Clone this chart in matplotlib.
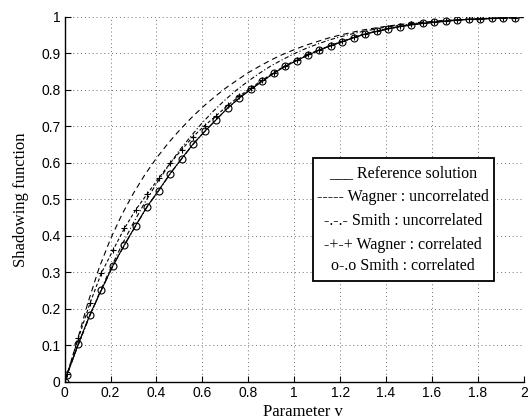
import numpy as np
import matplotlib
matplotlib.use("Agg")
import matplotlib.pyplot as plt
from matplotlib.patches import Rectangle

# sample points of the correlated curves (markers)
v_mark = [0.0, 0.01, 0.06, 0.11, 0.16, 0.21, 0.26, 0.31, 0.36, 0.41, 0.46,
          0.51, 0.56, 0.61, 0.66, 0.71, 0.76, 0.81, 0.86, 0.91, 0.96,
          1.01, 1.06, 1.11, 1.16, 1.21, 1.26, 1.31, 1.36, 1.41, 1.46,
          1.51, 1.56, 1.61, 1.66, 1.71, 1.76, 1.81, 1.86, 1.91, 1.96]

reference = [0.0, 0.020, 0.105, 0.184, 0.252, 0.318, 0.375, 0.429, 0.481, 0.525, 0.571,
             0.612, 0.652, 0.686, 0.718, 0.750, 0.777, 0.801, 0.823, 0.845, 0.864,
             0.880, 0.895, 0.909, 0.921, 0.932, 0.943, 0.953, 0.960, 0.967, 0.973,
             0.978, 0.982, 0.985, 0.988, 0.991, 0.993, 0.994, 0.996, 0.997, 0.998]

smith_corr = [0.0, 0.019, 0.104, 0.183, 0.251, 0.317, 0.374, 0.428, 0.480, 0.524, 0.570,
              0.611, 0.651, 0.686, 0.718, 0.750, 0.777, 0.801, 0.823, 0.845, 0.864,
              0.880, 0.895, 0.909, 0.921, 0.932, 0.943, 0.953, 0.960, 0.967, 0.973,
              0.978, 0.982, 0.985, 0.988, 0.991, 0.993, 0.994, 0.996, 0.997, 0.998]

wagner_corr = [0.0, 0.021, 0.120, 0.215, 0.298, 0.360, 0.420, 0.472, 0.515, 0.558, 0.599,
               0.636, 0.672, 0.702, 0.729, 0.757, 0.782, 0.805, 0.826, 0.847, 0.866,
               0.882, 0.897, 0.910, 0.922, 0.933, 0.944, 0.954, 0.961, 0.968, 0.974,
               0.979, 0.982, 0.985, 0.988, 0.991, 0.993, 0.994, 0.996, 0.997, 0.998]

# uncorrelated curves
v_line = [0.0, 0.01, 0.05, 0.10, 0.15, 0.20, 0.25, 0.30, 0.35, 0.40, 0.45,
          0.50, 0.55, 0.60, 0.65, 0.70, 0.75, 0.80, 0.85, 0.90, 0.95,
          1.00, 1.05, 1.10, 1.15, 1.20, 1.25, 1.30, 1.35, 1.40, 1.45,
          1.50, 1.55, 1.60, 1.65, 1.70, 1.75, 1.80, 1.85, 1.90, 1.95, 2.00]

wagner_uncorr = [0.0, 0.018, 0.102, 0.214, 0.312, 0.392, 0.459, 0.517, 0.568, 0.613, 0.653,
                 0.689, 0.722, 0.752, 0.779, 0.804, 0.826, 0.847, 0.865, 0.882, 0.897,
                 0.910, 0.922, 0.932, 0.942, 0.950, 0.957, 0.964, 0.969, 0.974, 0.978,
                 0.982, 0.985, 0.987, 0.990, 0.991, 0.993, 0.994, 0.995, 0.996, 0.997, 0.998]

smith_uncorr = [0.0, 0.018, 0.086, 0.166, 0.241, 0.311, 0.376, 0.436, 0.492, 0.543, 0.590,
                0.634, 0.673, 0.710, 0.743, 0.773, 0.800, 0.824, 0.846, 0.866, 0.883,
                0.899, 0.913, 0.925, 0.936, 0.945, 0.953, 0.960, 0.966, 0.972, 0.976,
                0.980, 0.984, 0.986, 0.989, 0.991, 0.993, 0.994, 0.995, 0.996, 0.997, 0.998]

legend_lines = ["___ Reference solution",
                "----- Wagner : uncorrelated",
                "-.-.- Smith : uncorrelated",
                "-+-+ Wagner : correlated",
                "o-.o Smith : correlated"]

serif = ["Liberation Serif", "DejaVu Serif"]
sans = ["Liberation Sans", "DejaVu Sans"]

fig = plt.figure(figsize=(5.28, 4.2), dpi=100)
ax = fig.add_axes([0.1225, 0.091, 0.8695, 0.869])

lw = 0.8
ax.plot(v_line, wagner_uncorr, color="k", lw=lw, linestyle=(0, (5, 3.5)))
ax.plot(v_line, smith_uncorr, color="k", lw=lw, linestyle=(0, (4, 2, 1, 2)))
ax.plot(v_mark, wagner_corr, color="k", lw=lw, linestyle=(0, (3, 2)),
        marker="+", markersize=5, markeredgewidth=0.8)
ax.plot(v_mark, reference, color="k", lw=lw, linestyle="-")
ax.plot(v_mark, smith_corr, color="k", lw=lw, linestyle="-.",
        marker="o", markersize=5, markerfacecolor="none", markeredgewidth=0.8)

ax.set_xlim(0, 2)
ax.set_ylim(0, 1)
ax.set_xticks(np.arange(0, 2.01, 0.2))
ax.set_yticks(np.arange(0, 1.01, 0.1))
ax.set_xticklabels(["0", "0.2", "0.4", "0.6", "0.8", "1", "1.2", "1.4", "1.6", "1.8", "2"])
ax.set_yticklabels(["0", "0.1", "0.2", "0.3", "0.4", "0.5", "0.6", "0.7", "0.8", "0.9", "1"])
ax.tick_params(direction="in", length=4, width=0.8, labelsize=10, pad=3)
for lab in ax.get_xticklabels() + ax.get_yticklabels():
    lab.set_family(sans)

ax.grid(True, linestyle=(0, (1, 3)), color="0.45", linewidth=0.7)
ax.spines["top"].set_visible(False)
ax.spines["right"].set_visible(False)
ax.spines["left"].set_linewidth(1.0)
ax.spines["bottom"].set_linewidth(1.0)

ax.set_xlabel("Parameter v", family=serif, fontsize=12, labelpad=4)
ax.xaxis.set_label_coords(0.52, -0.062)
ax.set_ylabel("Shadowing function", family=serif, fontsize=12, labelpad=9)

# text-style legend box
ax.add_patch(Rectangle((1.08, 0.277), 0.79, 0.335, transform=ax.transData,
                       facecolor="white", edgecolor="k", linewidth=1.3, zorder=5))
ys = [0.571, 0.505, 0.441, 0.376, 0.316]
for txt, yy in zip(legend_lines, ys):
    ax.text(1.475, yy, txt, ha="center", va="center", family=serif,
            fontsize=11.5, zorder=6)

fig.savefig("out.png", dpi=100)
